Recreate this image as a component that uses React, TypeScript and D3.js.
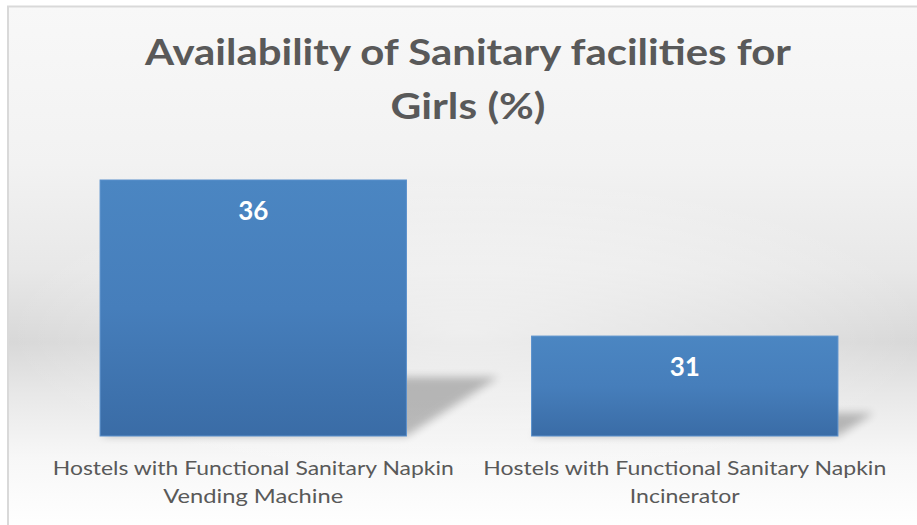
import React from "react";
import * as d3 from "d3";

const W = 917;
const H = 525;

const titleLines = ["Availability of Sanitary facilities for", "Girls (%)"];
const categories = [
  ["Hostels with Functional Sanitary Napkin", "Vending Machine"],
  ["Hostels with Functional Sanitary Napkin", "Incinerator"],
];
const values = [36, 31];
const axisMin = 27.8;
const axisMax = 36;

const titleLen = [646, 155];
const catLen = [
  [401, 180],
  [403, 110],
];

export default function App() {
  const x = d3
    .scaleBand<number>()
    .domain(values.map((_, i) => i))
    .range([37.5, 900.5])
    .paddingInner(0.29)
    .paddingOuter(0.145);
  const y = d3.scaleLinear().domain([axisMin, axisMax]).range([436, 180]);
  const bw = x.bandwidth();
  const base = y(axisMin);

  return (
    <svg
      width={W}
      height={H}
      style={{ position: "fixed", left: 0, top: 0, display: "block" }}
    >
      <defs>
        <linearGradient id="bg" x1="0" y1="0" x2="0" y2="1">
          <stop offset="0" stopColor="#f8f8f8" />
          <stop offset="0.3" stopColor="#f2f2f2" />
          <stop offset="0.5" stopColor="#e8e8e8" />
          <stop offset="0.64" stopColor="#d8d8d8" />
          <stop offset="0.74" stopColor="#e8e8e8" />
          <stop offset="0.86" stopColor="#f7f7f7" />
          <stop offset="1" stopColor="#ffffff" />
        </linearGradient>
        <radialGradient id="glow" cx="0.5" cy="0.62" r="0.5" gradientTransform="translate(0.5,0.62) scale(1,0.6) translate(-0.5,-0.62)">
          <stop offset="0" stopColor="#ffffff" stopOpacity="0.55" />
          <stop offset="0.6" stopColor="#ffffff" stopOpacity="0.25" />
          <stop offset="1" stopColor="#ffffff" stopOpacity="0" />
        </radialGradient>
        <linearGradient id="bar" x1="0" y1="0" x2="0" y2="1">
          <stop offset="0" stopColor="#4b86c2" />
          <stop offset="0.5" stopColor="#467ebb" />
          <stop offset="1" stopColor="#3a6ca6" />
        </linearGradient>
        <filter id="blur" x="-50%" y="-50%" width="200%" height="200%">
          <feGaussianBlur stdDeviation="4.5" />
        </filter>
      </defs>
      <rect x={0} y={0} width={W} height={H} fill="#ffffff" />
      <rect x={8} y={6} width={W} height={H} fill="url(#bg)" />
      <rect x={8} y={6} width={W} height={H} fill="url(#glow)" />
      <rect
        x={8}
        y={6.5}
        width={W + 10}
        height={H + 10}
        fill="none"
        stroke="#d9d9d9"
        strokeWidth={2}
      />

      {titleLines.map((t, i) => (
        <text
          key={i}
          x={468}
          y={65 + i * 54}
          textAnchor="middle"
          fontFamily="Lato, 'Open Sans', sans-serif"
          fontWeight={700}
          fontSize={37}
          fill="#595959"
          textLength={titleLen[i]}
          lengthAdjust="spacingAndGlyphs"
        >
          {t}
        </text>
      ))}

      {values.map((v, i) => {
        const x0 = x(i) as number;
        const top = y(v);
        const h = base - top;
        const dx = 0.36 * h;
        const dy = 0.23 * h;
        const pts = [
          [x0, base],
          [x0 + bw, base],
          [x0 + bw + dx, base - dy],
          [x0 + dx, base - dy],
        ]
          .map((p) => p.join(","))
          .join(" ");
        return (
          <polygon
            key={"s" + i}
            points={pts}
            fill="#000"
            opacity={0.24}
            filter="url(#blur)"
          />
        );
      })}

      {values.map((v, i) => (
        <rect
          key={"b" + i}
          x={x(i)}
          y={y(v)}
          width={bw}
          height={base - y(v)}
          fill="url(#bar)"
          stroke="#5a90cc"
          strokeWidth={1}
        />
      ))}

      {values.map((v, i) => (
        <text
          key={"v" + i}
          x={(x(i) as number) + bw / 2}
          y={y(v) + 40}
          textAnchor="middle"
          fontFamily="Lato, 'Open Sans', sans-serif"
          fontWeight={700}
          fontSize={26}
          fill="#ffffff"
        >
          {v}
        </text>
      ))}

      {categories.map((lines, i) =>
        lines.map((l, j) => (
          <text
            key={"c" + i + "-" + j}
            x={(x(i) as number) + bw / 2}
            y={475 + j * 28}
            textAnchor="middle"
            fontFamily="Lato, 'Open Sans', sans-serif"
            fontSize={20}
            fill="#595959"
            textLength={catLen[i][j]}
            lengthAdjust="spacingAndGlyphs"
          >
            {l}
          </text>
        ))
      )}
    </svg>
  );
}
